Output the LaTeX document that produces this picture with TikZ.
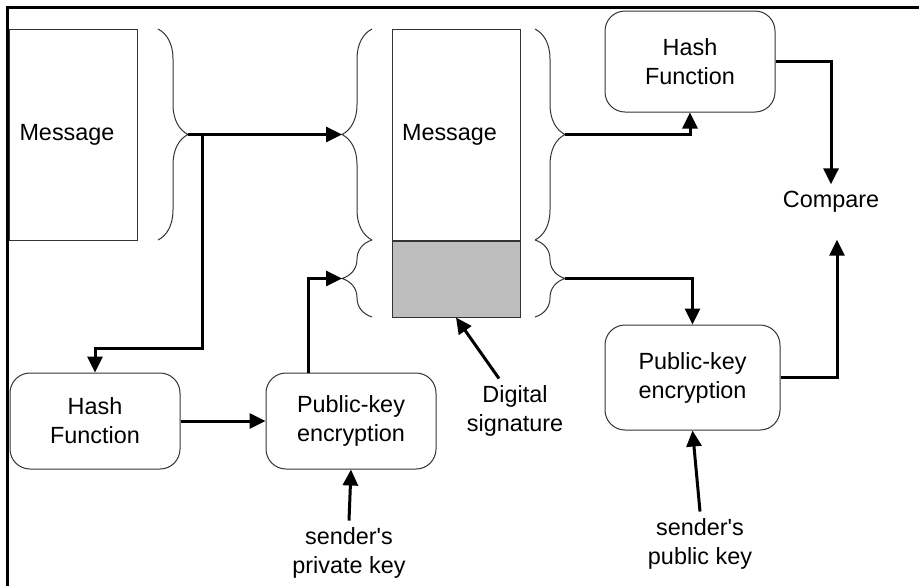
\documentclass[tikz,border=0pt]{standalone}
\usepackage{fontspec}
\setmainfont{Liberation Sans}
\usepackage{tikz}
\usetikzlibrary{arrows.meta,positioning,decorations.pathreplacing}
\definecolor{edge}{HTML}{333333}
\definecolor{sigfill}{HTML}{BDBDBD}
\newcommand{\diagfont}{\fontsize{11.7}{14.5}\selectfont}
\tikzset{
  msgbox/.style={draw=edge,line width=0.5pt,minimum width=64pt,text width=54pt,
    inner xsep=5pt,minimum height=105.5pt,align=left,font=\diagfont},
  sigbox/.style={draw=edge,line width=0.5pt,fill=sigfill,minimum width=64pt,
    minimum height=38pt},
  procbox/.style={draw=edge,line width=0.5pt,rounded corners=10pt,align=center,
    minimum width=85pt,minimum height=48pt,font=\diagfont},
  note/.style={align=center,font=\diagfont},
  brc/.style={draw=edge,line width=0.5pt,decorate,decoration={brace,amplitude=15pt}},
  arr/.style={-{Triangle[length=8pt,width=7.5pt]},line width=1.5pt},
  frame/.style={line width=1.5pt},
}
\begin{document}
\begin{tikzpicture}[x=0.5pt,y=-0.5pt]
  \useasboundingbox (0,0) rectangle (919,586);
  \draw[frame] (7,586) -- (7,7) -- (919,7);

  \node[msgbox] (msgA) at (73.5,134.5) {Message};
  \node[msgbox] (msgB) at (456,134.5) {Message};
  \node[sigbox,below=0pt of msgB] (sig) {};

  \draw[brc] (158,29) -- (158,240);
  \draw[brc] (372,240) -- (372,29);
  \draw[brc] (372,317) -- (372,240);
  \draw[brc] (535,29) -- (535,240);
  \draw[brc] (535,240) -- (535,317);
  \coordinate (tipA) at (188,134.5);
  \coordinate (tipB1) at (342,134.5);
  \coordinate (tipB2) at (342,278.5);
  \coordinate (tipC1) at (565,134.5);
  \coordinate (tipC2) at (565,278.5);
  \coordinate (split) at (202,134.5);
  \coordinate (bend) at (202,348);

  \node[procbox] (hashL) at (95,421) {Hash\\Function};
  \node[procbox,right=42.5pt of hashL] (pkL) {Public-key\\encryption};
  \node[procbox,minimum height=50.5pt] (hashR) at (690,61.5) {Hash\\Function};
  \node[procbox,minimum width=87.5pt,minimum height=52.5pt] (pkR) at (692.5,377.5) {Public-key\\encryption};

  \node[note] (cmp) at (831,202) {Compare};
  \node[note] (dsig) at (515,411) {Digital\\signature};
  \node[note] (privkey) at (349,553) {sender\textquotesingle s\\private key};
  \node[note] (pubkey) at (700,544) {sender\textquotesingle s\\public key};

  \draw[arr] (tipA) -- (tipB1);
  \draw[arr] (split) -- (bend) -| (hashL.north);
  \draw[arr] (hashL.east) -- (pkL.west);
  \draw[arr] ([xshift=-21.5pt]pkL.north) |- (tipB2);
  \draw[arr] (privkey.north) -- (pkL.south);
  \draw[arr] (tipC1) -| (hashR.south);
  \draw[arr] (tipC2) -| (pkR.north);
  \draw[arr] (hashR.east) -| (cmp.north);
  \draw[arr,shorten >=10pt] (pkR.east) -| ([xshift=3pt]cmp.south);
  \draw[arr] (pubkey.north) -- (pkR.south);
  \draw[arr] ([xshift=-8pt]dsig.north) -- (sig.south);
\end{tikzpicture}
\end{document}
